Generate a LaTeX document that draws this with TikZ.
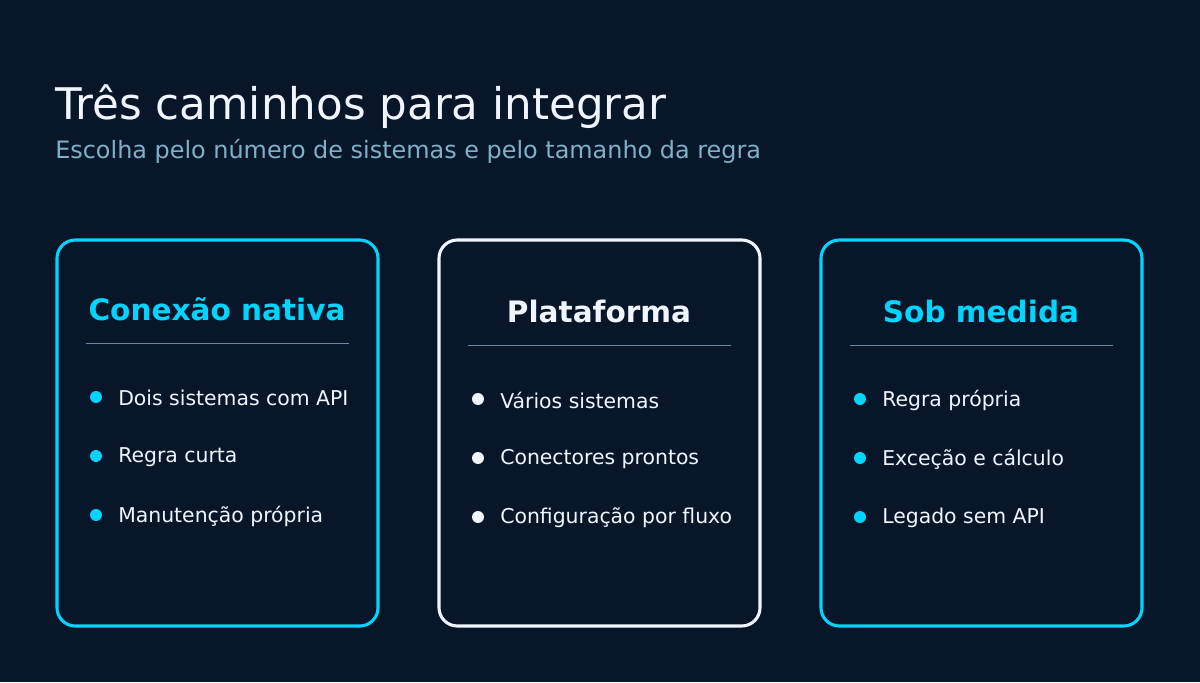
\documentclass[tikz,border=0pt]{standalone}
\usepackage{fontspec}
\setmainfont{DejaVu Sans}
\usetikzlibrary{positioning}
\definecolor{bgnavy}{HTML}{071729}
\definecolor{accent}{HTML}{00D4FF}
\definecolor{paper}{HTML}{F0F6FF}
\definecolor{muted}{HTML}{7FB0C8}
\definecolor{rule}{HTML}{6A8BA6}
\begin{document}
\begin{tikzpicture}
[x=0.025cm, y=-0.025cm,
card/.style={rectangle, draw, line width=2.2pt, rounded corners=13pt, fill=bgnavy, minimum width=321*0.025cm, minimum height=386*0.025cm, inner sep=0pt},
head/.style={font=\fontsize{21}{25}\selectfont\bfseries},
item/.style={anchor=west, text=paper, font=\fontsize{14.5}{17}\selectfont, inner sep=0pt},
dot/.style={circle, inner sep=0pt, minimum size=8.5pt}]

\fill[bgnavy] (0,0) rectangle (1200,682);
\useasboundingbox (0,0) rectangle (1200,682);

\node[anchor=base west, text=paper, inner sep=0pt, font=\fontsize{31}{36}\selectfont] (title) at (55,120) {Três caminhos para integrar};
\node[anchor=base west, text=muted, inner sep=0pt, font=\fontsize{17}{20}\selectfont] (subtitle) at (55,159) {Escolha pelo número de sistemas e pelo tamanho da regra};

% cards
\node[card, draw=accent] (native) at (217.5,433) {};
\node[card, draw=paper] (platform) at (599.5,433) {};
\node[card, draw=accent] (custom) at (981.5,433) {};

\node[head, text=accent] (nativehead) at (217,309) {Conexão nativa};
\node[head, text=paper] (platformhead) at (599,311) {Plataforma};
\node[head, text=accent] (customhead) at (981,311) {Sob medida};

\draw[rule, line width=0.6pt] (86,343) -- (349,343);
\draw[rule, line width=0.6pt] (468,345) -- (731,345);
\draw[rule, line width=0.6pt] (850,345) -- (1113,345);

% items
\node[dot, fill=accent] (n1) at (96,397) {};
\node[item] at (118,398) {Dois sistemas com API};
\node[dot, fill=accent] (n2) at (96,456) {};
\node[item] at (118,457) {Regra curta};
\node[dot, fill=accent] (n3) at (96,515) {};
\node[item] at (118,516) {Manutenção própria};

\node[dot, fill=paper] (p1) at (478,399) {};
\node[item] at (500,400) {Vários sistemas};
\node[dot, fill=paper] (p2) at (478,458) {};
\node[item] at (500,459) {Conectores prontos};
\node[dot, fill=paper] (p3) at (478,517) {};
\node[item] at (500,518) {Configuração por fluxo};

\node[dot, fill=accent] (c1) at (860,399) {};
\node[item] at (882,400) {Regra própria};
\node[dot, fill=accent] (c2) at (860,458) {};
\node[item] at (882,459) {Exceção e cálculo};
\node[dot, fill=accent] (c3) at (860,517) {};
\node[item] at (882,518) {Legado sem API};
\end{tikzpicture}
\end{document}
